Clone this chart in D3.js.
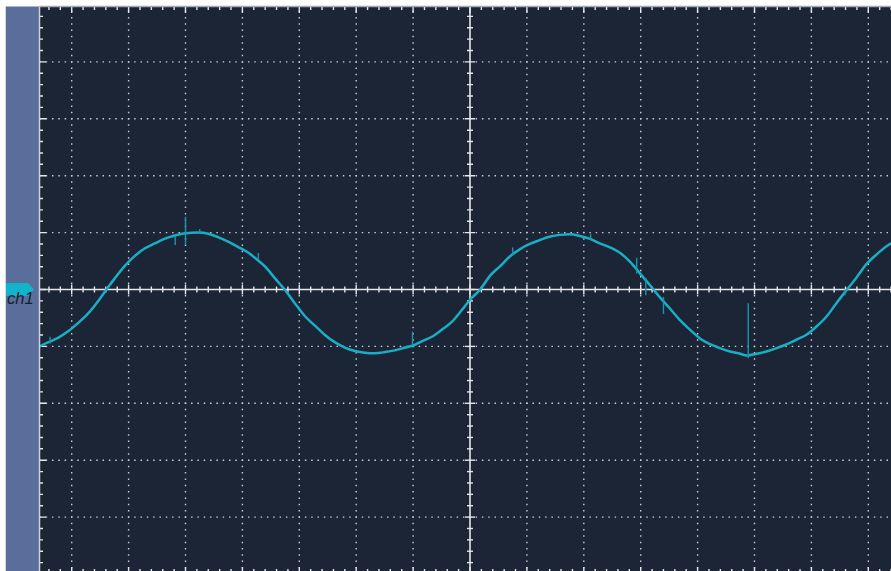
<!DOCTYPE html>
<html>
<head>
<meta charset="utf-8">
<script src="https://cdn.jsdelivr.net/npm/d3@7"></script>
<style>
  html, body { margin: 0; padding: 0; background: #ffffff; }
  svg { display: block; }
</style>
</head>
<body>
<svg id="chart" width="891" height="571"></svg>
<script>
// ---- Data (time and voltage in screen divisions) ----
const timeDiv = [-7.59,-7.42,-7.24,-7.07,-6.89,-6.71,-6.54,-6.39,-6.24,-6.07,-5.89,-5.72,-5.54,-5.37,-5.19,-5.00,-4.78,-4.60,-4.43,-4.25,-4.08,-3.90,-3.76,-3.60,-3.43,-3.25,-3.08,-2.90,-2.72,-2.55,-2.37,-2.20,-2.02,-1.85,-1.67,-1.49,-1.32,-1.14,-0.99,-0.85,-0.67,-0.50,-0.32,-0.15,0.00,0.18,0.35,0.53,0.70,0.88,1.05,1.23,1.41,1.58,1.76,1.93,2.11,2.28,2.46,2.64,2.81,2.99,3.16,3.34,3.51,3.69,3.87,4.04,4.22,4.39,4.57,4.75,4.86,5.04,5.21,5.39,5.57,5.74,5.92,6.09,6.27,6.44,6.62,6.80,6.97,7.15,7.32,7.40];
const voltDiv = [-1.01,-0.93,-0.85,-0.74,-0.59,-0.42,-0.21,0.00,0.20,0.41,0.59,0.72,0.81,0.89,0.95,0.99,1.00,0.98,0.92,0.84,0.75,0.65,0.54,0.40,0.20,-0.01,-0.24,-0.47,-0.64,-0.80,-0.93,-1.02,-1.08,-1.11,-1.12,-1.10,-1.07,-1.02,-0.98,-0.91,-0.83,-0.71,-0.57,-0.37,-0.18,0.00,0.24,0.41,0.58,0.71,0.80,0.87,0.93,0.96,0.97,0.94,0.89,0.81,0.74,0.64,0.49,0.28,0.08,-0.14,-0.33,-0.54,-0.71,-0.86,-0.96,-1.03,-1.09,-1.13,-1.16,-1.13,-1.09,-1.03,-0.96,-0.88,-0.79,-0.65,-0.47,-0.24,-0.01,0.22,0.45,0.62,0.76,0.81];
// glitch spikes: time, start level, end level
const glitchT    = [-7.38,-5.18,-5.00,-4.75,-3.72,-1.01,0.75,2.12,2.93,3.09,3.40,4.89,6.59];
const glitchFrom = [-0.83, 0.95, 1.28, 1.00, 0.53,-0.74,0.74,0.97,0.56,0.20,-0.13,-0.24,-0.10];
const glitchTo   = [-0.95, 0.78, 0.78, 1.06, 0.64,-0.98,0.60,0.88,0.28,-0.10,-0.43,-1.21,0.00];
const channelLabel = "ch1";
const gridT = [-7,-6,-5,-4,-3,-2,-1,1,2,3,4,5,6,7];
const gridV = [-4,-3,-2,-1,1,2,3,4];

// ---- Layout ----
const svg = d3.select("#chart");
const DIV = 56.9, CX = 470, CY = 289.5;
const x = d3.scaleLinear().domain([-8, 8]).range([CX - 8*DIV, CX + 8*DIV]);
const y = d3.scaleLinear().domain([-5, 5]).range([CY + 5*DIV, CY - 5*DIV]);
const L = 39.5, T = 6.5, R = 891, B = 571;

// white page + left side panel
svg.append("rect").attr("x",0).attr("y",0).attr("width",891).attr("height",571).attr("fill","#ffffff");
svg.append("line").attr("x1",5.5).attr("x2",5.5).attr("y1",T).attr("y2",571).attr("stroke","#d5d8dd").attr("stroke-width",1);
svg.append("rect").attr("x",6).attr("y",T).attr("width",L-6).attr("height",571-T).attr("fill","#5a6e9b");

// screen
svg.append("defs").append("clipPath").attr("id","clip")
  .append("rect").attr("x",L).attr("y",T).attr("width",R-L).attr("height",B-T+5);
svg.append("rect").attr("x",L).attr("y",T).attr("width",R-L).attr("height",B-T+5).attr("fill","#1c2536");

const g = svg.append("g").attr("clip-path","url(#clip)");

// dotted grid (9 dots per division)
const period = DIV/9;
const dash = `1.5 ${period-1.5}`;
g.selectAll(".vgrid").data(gridT).join("line")
  .attr("x1", d => x(d)).attr("x2", d => x(d))
  .attr("y1", y(5)).attr("y2", y(-5))
  .attr("stroke","#c8cdd6").attr("stroke-width",1.4)
  .attr("stroke-dasharray",dash).attr("stroke-dashoffset",0.75);
g.selectAll(".hgrid").data(gridV).join("line")
  .attr("y1", d => y(d)).attr("y2", d => y(d))
  .attr("x1", x(-8)).attr("x2", x(8))
  .attr("stroke","#c8cdd6").attr("stroke-width",1.4)
  .attr("stroke-dasharray",dash).attr("stroke-dashoffset",0.75);

// center axes with ticks
const axisCol = "#e4e6ea";
g.append("line").attr("x1",L).attr("x2",R).attr("y1",y(0)).attr("y2",y(0)).attr("stroke",axisCol).attr("stroke-width",1.6);
g.append("line").attr("x1",x(0)).attr("x2",x(0)).attr("y1",T).attr("y2",B+5).attr("stroke",axisCol).attr("stroke-width",1.6);

const tStepTicks = d3.range(-40, 41).map(i => i/5);
const vStepTicks = d3.range(-25, 26).map(i => i/5);
const isMajor = d => Math.abs(d - Math.round(d)) < 1e-6;

g.selectAll(".hticks").data(tStepTicks).join("line")
  .attr("x1", d => x(d)).attr("x2", d => x(d))
  .attr("y1", d => y(0) - (isMajor(d) ? 5 : 3)).attr("y2", d => y(0) + (isMajor(d) ? 5 : 3))
  .attr("stroke",axisCol).attr("stroke-width",1.4);
g.selectAll(".vticks").data(vStepTicks).join("line")
  .attr("y1", d => y(d)).attr("y2", d => y(d))
  .attr("x1", d => x(0) - (isMajor(d) ? 5 : 3)).attr("x2", d => x(0) + (isMajor(d) ? 5 : 3))
  .attr("stroke",axisCol).attr("stroke-width",1.4);

// edge ticks
g.selectAll(".topticks").data(tStepTicks).join("line")
  .attr("x1", d => x(d)).attr("x2", d => x(d))
  .attr("y1", T).attr("y2", d => T + (isMajor(d) ? 6.5 : 3.5))
  .attr("stroke",axisCol).attr("stroke-width",1.4);
g.selectAll(".botticks").data(tStepTicks).join("line")
  .attr("x1", d => x(d)).attr("x2", d => x(d))
  .attr("y1", B + 1).attr("y2", d => B - (isMajor(d) ? 4 : 2))
  .attr("stroke",axisCol).attr("stroke-width",1.4);
g.selectAll(".leftticks").data(vStepTicks).join("line")
  .attr("y1", d => y(d)).attr("y2", d => y(d))
  .attr("x1", L).attr("x2", d => L + (isMajor(d) ? 6.5 : 3.5))
  .attr("stroke",axisCol).attr("stroke-width",1.4);

// frame edges
svg.append("line").attr("x1",L).attr("x2",R).attr("y1",T).attr("y2",T).attr("stroke","#a3a9b3").attr("stroke-width",1.5);
svg.append("line").attr("x1",L).attr("x2",L).attr("y1",T).attr("y2",571).attr("stroke","#cdd1d7").attr("stroke-width",1.5);

// trace
const pts = timeDiv.map((t, i) => [t, voltDiv[i]]);
g.append("path").datum(pts)
  .attr("fill","none").attr("stroke","#1aaec6").attr("stroke-width",2.5)
  .attr("stroke-linejoin","round")
  .attr("d", d3.line().x(d => x(d[0])).y(d => y(d[1])).curve(d3.curveMonotoneX));

// glitches
g.selectAll(".glitch").data(glitchT).join("line")
  .attr("x1", d => x(d)).attr("x2", d => x(d))
  .attr("y1", (d,i) => y(glitchFrom[i])).attr("y2", (d,i) => y(glitchTo[i]))
  .attr("stroke","#1896ad").attr("stroke-width",1.4);

// channel marker
const my = y(0);
svg.append("path")
  .attr("d", `M6,${my-6.5} L28,${my-6.5} L34,${my} L28,${my+6.5} L6,${my+6.5} Z`)
  .attr("fill","#12b4cc");
svg.append("text").attr("x",7).attr("y",my+14)
  .attr("font-family","'Liberation Sans', Arial, sans-serif")
  .attr("font-style","italic").attr("font-size",16.5)
  .attr("fill","#18202e").text(channelLabel);
</script>
</body>
</html>
